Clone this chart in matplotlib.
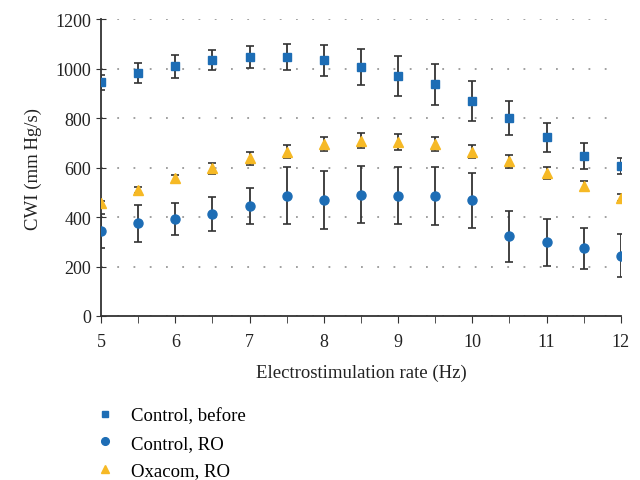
import matplotlib
matplotlib.use('agg')
import matplotlib.pyplot as plt
import numpy as np

plt.rcParams['font.family'] = ['Liberation Serif', 'DejaVu Serif']

rate = [5, 5.5, 6, 6.5, 7, 7.5, 8, 8.5, 9, 9.5, 10, 10.5, 11, 11.5, 12]

# Control, before
ctrl_before = [945, 982, 1010, 1034, 1046, 1046, 1034, 1006, 970, 936, 869, 800, 723, 646, 606]
ctrl_before_err = [30, 40, 46, 40, 44, 52, 62, 72, 80, 82, 81, 70, 58, 53, 33]

# Control, RO
ctrl_ro = [344, 374, 392, 413, 443, 486, 469, 491, 486, 486, 467, 322, 298, 273, 243]
ctrl_ro_err = [70, 75, 63, 68, 73, 116, 117, 114, 116, 118, 111, 103, 95, 83, 87]

# Oxacom, RO
oxa_ro = [455, 510, 556, 597, 637, 665, 697, 709, 703, 696, 665, 625, 577, 526, 478]
oxa_ro_err = [10, 12, 15, 22, 25, 27, 28, 30, 31, 28, 25, 25, 24, 20, 15]

blue = '#1d6db5'
yellow = '#f6b925'
errc = '#333333'

fig = plt.figure(figsize=(6.4, 4.81), dpi=100)
ax = fig.add_axes([0.158, 0.341, 0.812, 0.617])

ax.grid(axis='y', linestyle=(0, (1, 8)), color='#999999', linewidth=1.3, zorder=0)

ekw = dict(ecolor=errc, elinewidth=1.3, capsize=3, capthick=1.2, linestyle='none', zorder=3)
h1 = ax.errorbar(rate, ctrl_before, yerr=ctrl_before_err, marker='s', ms=5.5,
                 color=blue, **ekw)
h2 = ax.errorbar(rate, ctrl_ro, yerr=ctrl_ro_err, marker='o', ms=6.5,
                 color=blue, **ekw)
h3 = ax.errorbar(rate, oxa_ro, yerr=oxa_ro_err, marker='^', ms=7,
                 color=yellow, **ekw)

ax.set_xlim(5, 12)
ax.set_ylim(0, 1200)
ax.set_xticks(range(5, 13))
ax.set_xticks(np.arange(5, 12.5, 0.5), minor=True)
ax.set_yticks(range(0, 1201, 200))

for s in ['top', 'right']:
    ax.spines[s].set_visible(False)
for s in ['left', 'bottom']:
    ax.spines[s].set_color('#333333')
    ax.spines[s].set_linewidth(1.3)

ax.tick_params(axis='x', which='both', direction='out', length=5, color='#333333',
               labelsize=13, colors='#222222', pad=7)
ax.tick_params(axis='y', direction='inout', length=7, color='#333333',
               labelsize=13, colors='#222222')

ax.set_xlabel('Electrostimulation rate (Hz)', fontsize=13.5, color='#222222', labelpad=10)
ax.set_ylabel('CWI (mm\u2009Hg/s)', fontsize=13.5, color='#222222', labelpad=10)

handles = [h1[0], h2[0], h3[0]]
fig.legend(handles, ['Control, before', 'Control, RO', 'Oxacom, RO'],
           loc='upper left', bbox_to_anchor=(0.125, 0.186), frameon=False,
           fontsize=13.5, handlelength=0.9, handletextpad=0.9, labelspacing=0.55,
           markerscale=0.85)

plt.savefig('out.png', dpi=100)
